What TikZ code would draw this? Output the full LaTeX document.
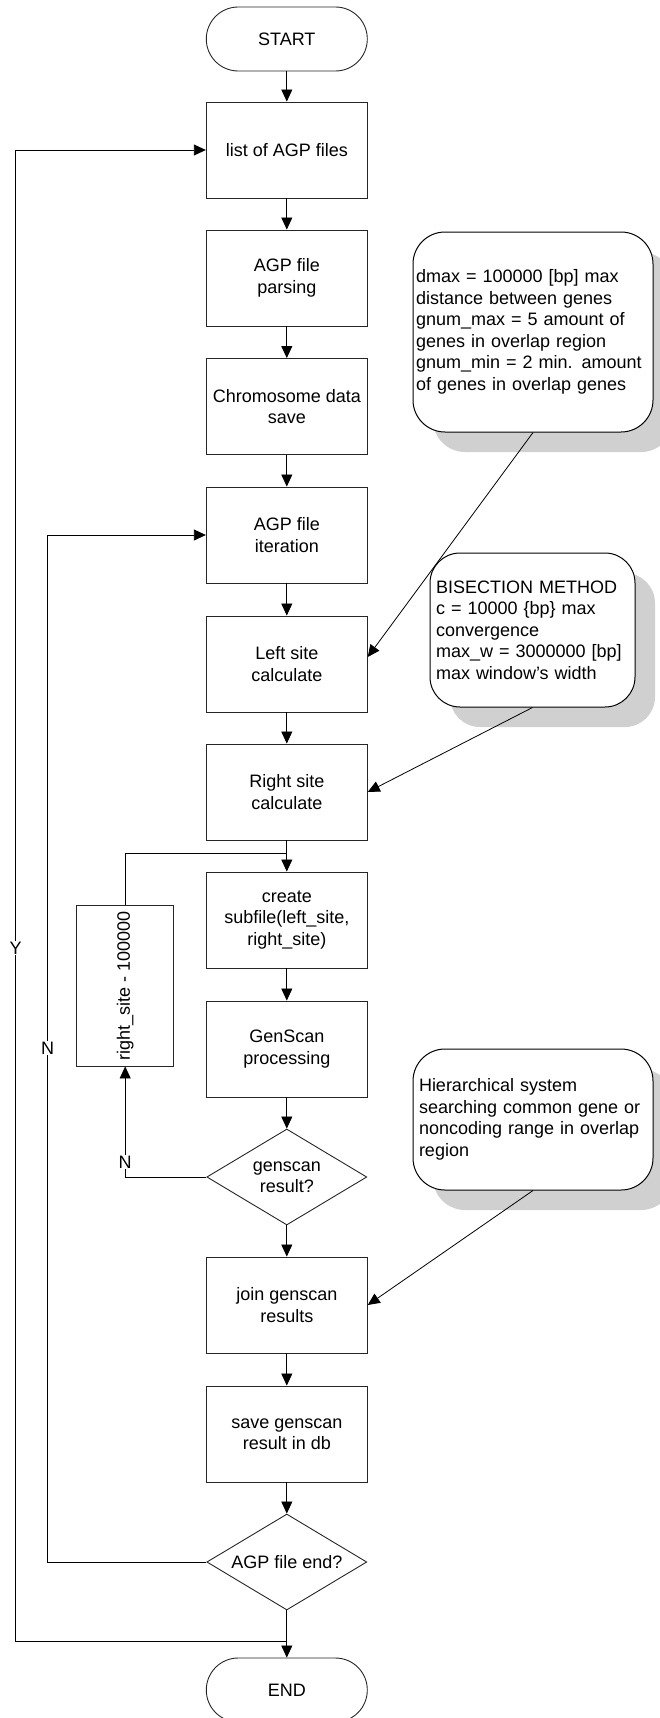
\documentclass[tikz,border=0pt]{standalone}
\usepackage{fontspec}
\setmainfont{Liberation Sans}
\usetikzlibrary{arrows.meta,shapes.geometric,shadows,calc}
\definecolor{shade}{RGB}{208,208,208}
\begin{document}
\begin{tikzpicture}[x=1pt,y=-1pt,
 every node/.style={font=\fontsize{18}{21.5}\selectfont},
 proc/.style={draw=black!85, line width=0.9pt, rectangle, minimum width=161pt, minimum height=96pt, inner sep=0pt, align=center},
 term/.style={draw=black!85, line width=0.9pt, rectangle, rounded corners=31.9pt, minimum width=161pt, minimum height=64pt, inner sep=0pt},
 decis/.style={draw=black!85, line width=0.9pt, diamond, aspect=1.667, minimum width=160pt, minimum height=96pt, inner sep=0pt, align=center},
 note/.style={draw=black, line width=1pt, rectangle, rounded corners=32pt, fill=white, align=left, inner ysep=0pt, drop shadow={shadow xshift=20pt, shadow yshift=-20pt, fill=shade, opacity=1}},
 arr/.style={draw=black, line width=0.8pt, -{Triangle[length=12pt,width=11pt]}},
 lbl/.style={fill=white, inner sep=1pt},
 ln/.style={draw=black, line width=0.8pt}
]
\useasboundingbox (0,0) rectangle (660,1718);
\clip (0,0) rectangle (660,1718);

% main column
\node[term] (start) at (286.8,39) {START};
\node[proc] (list) at (286.8,150) {list of AGP files};
\node[proc] (parse) at (286.8,278) {AGP file\\parsing};
\node[proc] (chrom) at (286.8,406.5) {Chromosome data\\save};
\node[proc] (iter) at (286.8,535) {AGP file\\iteration};
\node[proc] (left) at (286.8,664) {Left site\\calculate};
\node[proc] (right) at (286.8,792) {Right site\\calculate};
\node[proc] (create) at (286.8,920) {create\\subfile(left\_site,\\right\_site)};
\node[proc] (gens) at (286.8,1049) {GenScan\\processing};
\node[decis] (gdiam) at (286.8,1177) {genscan\\result?};
\node[proc] (join) at (286.8,1305) {join genscan\\results};
\node[proc] (save) at (286.8,1434) {save genscan\\result in db};
\node[decis] (ediam) at (286.8,1562) {AGP file end?};
\node[term] (end) at (286.8,1690) {END};

% side box
\node[proc, minimum width=97pt, minimum height=161pt] (rs) at (125.2,985.5) {};
\node[rotate=90, inner sep=0pt] (rstext) at (rs.center) {right\_site - 100000};

% notes
\node[note, minimum width=240pt, minimum height=200pt, text width=234pt, inner xsep=3pt] (c1) at (533,332)
 {dmax = 100000 [bp] max\\distance between genes\\gnum\_max = 5 amount of\\genes in overlap region\\gnum\_min = 2 min. amount\\of genes in overlap genes};
\node[note, rounded corners=30pt, minimum width=205pt, minimum height=154pt, text width=193pt, inner xsep=6pt] (c2) at (532.5,630)
 {BISECTION METHOD\\c = 10000 \{bp\} max\\convergence\\max\_w = 3000000 [bp]\\max window’s width};
\node[note, minimum width=240pt, minimum height=141pt, text width=228pt, inner xsep=6pt] (c3) at (533,1119.5)
 {Hierarchical system\\searching common gene or\\noncoding range in overlap\\region};

% main flow
\foreach \a/\b in {start/list, list/parse, parse/chrom, chrom/iter, iter/left, left/right, right/create, create/gens, gens/gdiam, gdiam/join, join/save, save/ediam, ediam/end}
  \draw[arr] (\a) -- (\b);

% genscan loop
\coordinate (m1) at (286.8,853);
\draw[ln] (rs.north) |- (m1);
\coordinate (laneG) at (125.2,1162);
\draw[arr] (gdiam.west) -| (laneG) -- (rs.south);
\node[lbl] (ng) at (laneG) {N};

% outer loops
\coordinate (m2) at (286.8,1641);
\coordinate (laneY) at (15.6,948);
\draw[arr] (m2) -| (laneY) |- (list.west);
\node[lbl] (yl) at (laneY) {Y};
\coordinate (laneN) at (47.6,1048);
\draw[arr] (ediam.west) -| (laneN) |- (iter.west);
\node[lbl] (nl) at (laneN) {N};

% note arrows
\draw[arr] (c1.south) -- ($(left.east)+(0,-7)$);
\draw[arr] (c2.south) -- (right.east);
\draw[arr] (c3.south) -- (join.east);
\end{tikzpicture}
\end{document}
